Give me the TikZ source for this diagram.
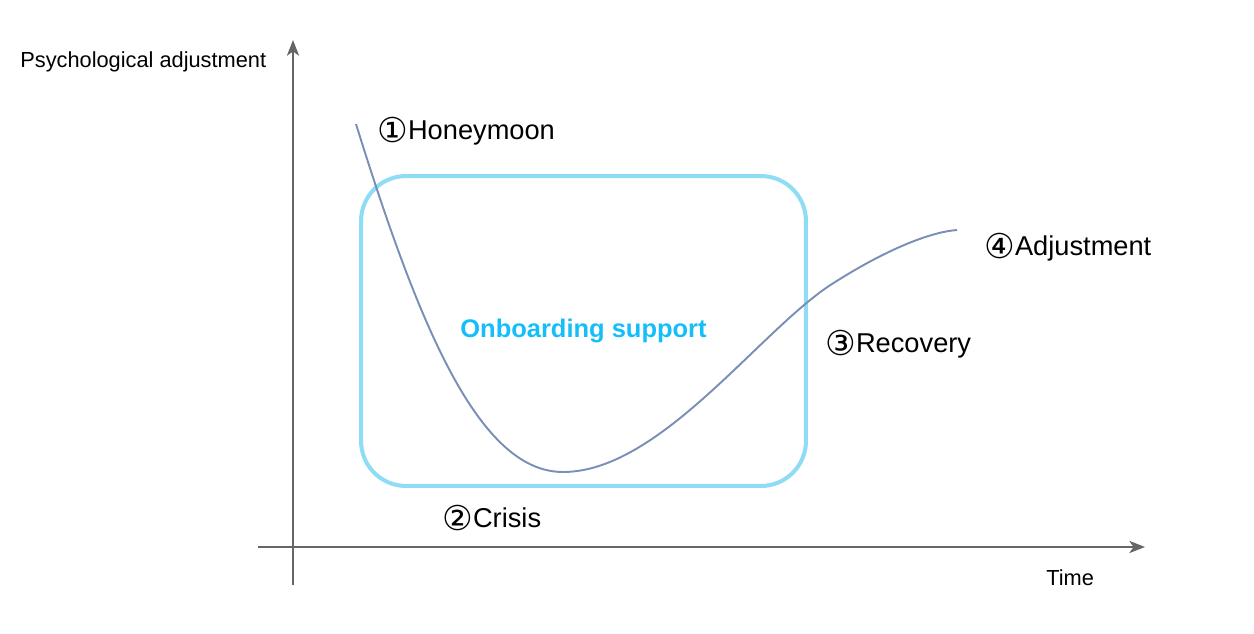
\documentclass[tikz,border=0pt]{standalone}
\usepackage{fontspec}
\setmainfont{Liberation Sans}
\newfontfamily\circfont{DejaVu Sans}
\usepackage{tikz}
\usetikzlibrary{positioning}
\usetikzlibrary{arrows.meta}
\definecolor{axisgray}{RGB}{102,102,102}
\definecolor{boxblue}{RGB}{143,221,245}
\definecolor{textblue}{RGB}{20,190,250}
\definecolor{curveblue}{RGB}{122,143,181}
\newcommand{\stage}[2]{\raisebox{-1.5pt}{\circfont\fontsize{19.5}{18}\selectfont #1}#2}

\begin{document}
\begin{tikzpicture}[x=0.02cm, y=-0.02cm,
  axis/.style={draw=axisgray, line width=0.8pt, -{Stealth[length=9pt,width=7pt,inset=2.5pt]}},
  phase/.style={anchor=west, inner sep=0pt, font=\fontsize{15.5}{18}\selectfont},
  axislabel/.style={anchor=west, inner sep=0pt, font=\fontsize{12.4}{15}\selectfont}]
\useasboundingbox (0,0) rectangle (1254,634);

\coordinate (ybot) at (293,585);
\coordinate (ytop) at (293,40);
\coordinate (xleft) at (258,547);
\coordinate (xright) at (1145,547);
\draw [axis] (ybot) -- (ytop);
\draw [axis] (xleft) -- (xright);

\node [axislabel] (ylab) at (20,62) {Psychological adjustment};
\node [axislabel] (xlab) at (1046,578) {Time};

\node [draw=boxblue, line width=2.3pt, rounded corners=0.9cm, minimum width=8.9cm, minimum height=6.2cm,
  text=textblue, font=\fontsize{14.5}{17}\bfseries] (support) at (583.5,331) {Onboarding support};

% Adjustment curve
\coordinate (start) at (356,124);
\coordinate (low) at (563,472);
\coordinate (knee) at (832,284);
\coordinate (finish) at (957,230);
\draw [curveblue, line width=1.1pt] (start) .. controls (420,330) and (480,472) .. (low)
  .. controls (660,472) and (760,330) .. (knee)
  .. controls (885,250) and (930,232) .. (finish);

\node [phase] (honey) at (377,131) {\stage{①}{Honeymoon}};
\node [phase] (crisis) at (442,518) {\stage{②}{Crisis}};
\node [phase] (recov) at (825,344) {\stage{③}{Recovery}};
\node [phase] (adjust) at (984,247) {\stage{④}{Adjustment}};
\end{tikzpicture}
\end{document}
